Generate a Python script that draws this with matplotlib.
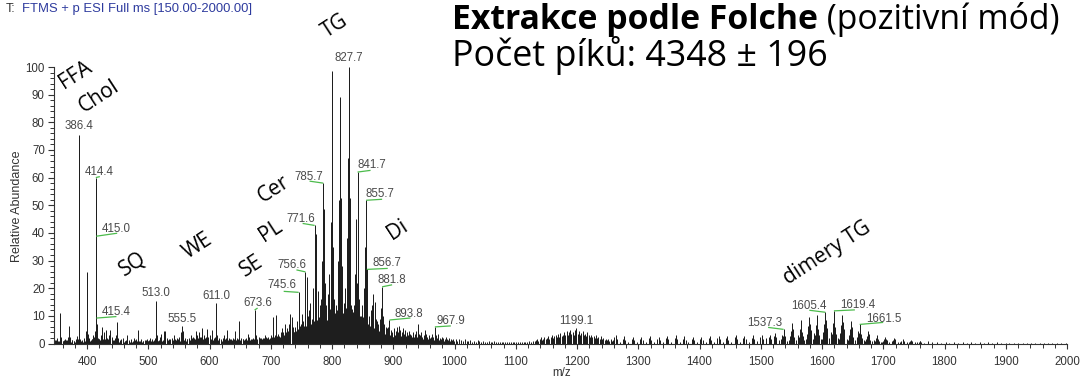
import matplotlib
matplotlib.use("Agg")
import matplotlib.pyplot as plt
from matplotlib.ticker import MultipleLocator

# ---------------------------------------------------------------------------
# Spectrum data: centroid m/z values and relative abundances (%)
# ---------------------------------------------------------------------------

# low-mass region: free fatty acids, cholesterol, squalene, wax / sterol esters
low_mz = [348.2, 351.1, 353.3, 356.3, 358.3, 361.2, 363.3, 366.2, 368.3, 370.3,
          372.3, 375.2, 378.3, 381.3, 384.3, 386.4, 387.4, 389.3, 392.3, 395.3,
          398.3, 400.3, 401.3, 403.3, 405.3, 408.3, 410.3, 412.3, 414.4, 415.0,
          415.4, 416.4, 418.3, 420.3, 422.3, 424.5, 427.3, 430.3, 432.3, 434.3,
          436.3, 438.3, 440.3, 442.3, 445.3, 447.3, 449.3, 451.3, 453.3, 456.3,
          459.3, 462.3, 465.3, 468.3, 471.3, 474.3, 477.3, 480.3, 482.6, 485.3,
          488.3, 491.3, 494.3, 497.3, 500.3, 503.3, 506.3, 509.3, 511.3, 513.0,
          514.0, 516.3, 519.3, 521.3, 525.3, 527.3, 530.3, 533.3, 535.3, 538.3,
          541.3, 544.3, 547.3, 550.3, 553.3, 555.5, 557.3, 560.3, 563.3, 566.3,
          569.3, 572.3, 575.3, 577.3, 580.3, 582.3, 585.3, 587.3, 590.3, 593.3,
          595.3, 598.3, 601.3, 604.3, 607.3, 609.3, 611.0, 612.0, 615.3, 618.3,
          621.3, 624.3, 627.3, 629.3, 632.3, 635.3, 638.3, 641.3, 644.3, 646.3,
          648.6, 651.3, 654.3, 657.3, 659.3, 662.3, 664.3, 667.3, 670.3, 673.6,
          675.3, 678.3, 681.3, 684.3, 687.3, 689.3, 691.3, 694.3, 697.3, 700.3,
          703.6, 706.3, 709.0, 711.3, 714.3, 716.3, 718.3, 720.3, 723.0, 725.3,
          727.3, 729.3, 731.8, 734.0, 736.3, 738.3, 740.3, 742.3, 743.3, 745.6,
          747.3, 749.3, 751.5, 753.3, 755.3, 756.6, 758.6]
low_int = [1.2, 2.0, 1.0, 10.9, 2.5, 1.0, 1.5, 0.8, 2.2, 6.3,
           2.5, 1.2, 0.8, 1.5, 2.6, 75.3, 9.0, 1.5, 1.0, 2.0,
           4.5, 26.0, 3.5, 2.0, 1.0, 1.5, 3.0, 4.5, 60.0, 38.8,
           9.2, 7.0, 2.0, 1.5, 3.0, 6.0, 4.0, 5.0, 2.0, 1.5,
           3.0, 4.8, 2.5, 1.2, 2.0, 3.0, 7.7, 2.0, 1.0, 1.5,
           2.0, 1.0, 3.0, 1.2, 1.5, 1.0, 2.0, 1.5, 5.0, 1.0,
           1.5, 1.0, 1.2, 1.8, 1.0, 2.0, 1.5, 1.0, 2.0, 15.3,
           3.0, 1.0, 2.5, 3.5, 4.7, 4.7, 2.0, 1.5, 1.0, 2.0,
           3.2, 1.5, 2.0, 2.5, 4.0, 6.3, 4.7, 2.0, 1.5, 2.0,
           3.0, 2.5, 2.0, 4.5, 3.0, 4.0, 2.5, 5.5, 3.0, 2.0,
           5.2, 2.5, 3.0, 5.0, 2.0, 2.5, 14.7, 3.0, 2.0, 1.5,
           2.0, 3.0, 2.0, 5.0, 2.0, 1.5, 2.0, 4.7, 2.0, 1.0,
           8.3, 2.0, 1.5, 1.0, 2.0, 3.5, 2.5, 1.5, 2.0, 12.1,
           3.0, 1.5, 2.5, 2.0, 1.0, 2.0, 3.0, 2.0, 1.5, 3.0,
           9.7, 3.0, 10.4, 3.0, 2.5, 4.0, 5.5, 3.5, 7.0, 4.0,
           5.5, 7.0, 10.6, 9.5, 6.0, 4.0, 6.0, 8.0, 5.0, 18.5,
           6.5, 7.0, 10.7, 8.0, 10.0, 25.9, 24.0]

# chemical noise under the low-mass region, one value every 2 u from 348 to 758
low_floor_int = [0.8, 1.2, 0.6, 1.0, 1.5, 0.7, 0.9, 1.3, 0.6, 1.1,
                 1.4, 0.8, 1.0, 0.6, 1.2, 0.9, 0.7, 1.1, 1.6, 1.8,
                 1.0, 0.8, 1.2, 0.7, 1.0, 1.4, 2.0, 1.5, 0.9, 1.2,
                 1.5, 2.0, 2.5, 2.2, 1.8, 1.4, 1.6, 1.2, 1.8, 1.5,
                 1.2, 1.6, 1.0, 1.4, 0.9, 1.3, 1.1, 0.8, 1.2, 1.0,
                 1.4, 0.9, 0.7, 1.1, 0.8, 1.0, 0.6, 0.9, 1.2, 0.7,
                 0.9, 0.6, 1.0, 0.7, 0.8, 1.1, 0.6, 0.9, 0.7, 0.8,
                 1.0, 0.6, 0.8, 0.7, 1.1, 0.6, 0.9, 1.2, 0.8, 0.7,
                 1.0, 1.3, 1.8, 1.1, 0.8, 1.2, 1.6, 1.0, 1.4, 1.9,
                 1.2, 0.9, 1.3, 1.0, 1.5, 0.8, 1.2, 1.7, 1.1, 1.4,
                 1.8, 1.3, 1.0, 1.6, 2.0, 1.2, 1.4, 1.0, 1.5, 1.8,
                 1.2, 1.6, 2.1, 1.4, 1.8, 2.2, 1.5, 1.9, 2.4, 1.6,
                 2.0, 1.5, 1.8, 2.3, 1.4, 1.7, 2.1, 1.5, 1.9, 1.3,
                 1.6, 2.0, 1.4, 1.2, 1.7, 1.3, 1.0, 1.5, 1.2, 1.6,
                 1.9, 1.3, 1.1, 1.5, 1.2, 1.0, 1.6, 1.3, 1.1, 1.8,
                 1.4, 1.2, 1.0, 1.5, 1.3, 1.8, 1.4, 1.1, 1.6, 1.3,
                 1.0, 1.5, 1.8, 1.3, 1.6, 1.2, 1.4, 1.9, 1.5, 1.7,
                 2.0, 1.6, 2.2, 1.8, 2.5, 2.0, 2.8, 2.2, 3.0, 2.4,
                 3.2, 2.6, 3.5, 2.8, 3.6, 3.0, 4.0, 3.2, 4.2, 3.5,
                 4.5, 3.8, 4.8, 4.0, 5.0, 4.2, 5.5, 4.5, 5.2, 5.8,
                 4.8, 6.0, 5.0, 6.5, 5.5, 6.2]
low_floor_first, low_floor_step = 348, 2

# phospholipids, ceramides, triacylglycerols (sodium adducts)
tg_mz = [760.6, 762.6, 764.5, 766.6, 768.6, 769.6, 771.6, 772.6, 773.6, 774.6,
         776.6, 777.6, 779.6, 781.6, 783.6, 785.7, 786.7, 787.7, 788.7, 790.7,
         792.7, 795.7, 797.7, 798.7, 799.7, 800.7, 801.7, 802.7, 804.7, 806.7,
         809.7, 811.7, 812.7, 813.7, 814.7, 815.7, 816.7, 818.7, 821.7, 823.7,
         824.7, 825.7, 826.7, 827.7, 828.7, 829.7, 830.7, 832.7, 835.7, 837.7,
         839.7, 840.7, 841.7, 842.7, 843.7, 846.7, 849.7, 851.7, 853.7, 854.7,
         855.7, 856.7, 857.7, 860.7, 863.7, 865.7, 867.7, 869.7, 871.7, 873.7,
         875.7, 877.7, 879.7, 881.8, 882.8, 884.7, 887.7, 889.7, 891.7, 893.8,
         895.7, 897.7]
tg_int = [10.0, 12.0, 14.5, 9.0, 13.0, 20.0, 42.7, 22.0, 39.5, 18.0,
          12.0, 19.0, 14.0, 16.0, 30.0, 58.0, 33.0, 48.5, 22.0, 14.0,
          18.0, 25.0, 44.0, 22.0, 98.5, 57.0, 35.0, 16.0, 11.0, 14.0,
          30.0, 52.0, 26.0, 89.0, 52.5, 28.0, 12.0, 10.0, 20.0, 38.0,
          19.0, 67.0, 34.0, 100.0, 52.5, 30.0, 14.0, 10.0, 14.0, 25.0,
          45.0, 22.0, 62.0, 36.0, 16.0, 10.0, 14.0, 20.0, 35.0, 18.0,
          51.8, 26.8, 15.0, 10.0, 12.0, 14.0, 18.0, 15.0, 9.0, 8.0,
          7.0, 9.0, 13.0, 20.5, 10.0, 7.0, 6.0, 5.5, 6.0, 8.5,
          5.0, 4.0]

# unresolved signal under the TG cluster, one value per nominal mass 760..900
tg_floor_int = [4.5, 5.0, 6.5, 4.0, 5.5, 7.0, 4.5, 6.0, 5.0, 7.5,
                6.0, 8.0, 5.5, 7.0, 9.0, 6.0, 8.5, 7.0, 6.5, 9.5,
                7.0, 10.0, 8.0, 9.0, 11.0, 7.5, 10.5, 9.0, 8.0, 11.5,
                9.0, 12.0, 8.5, 10.0, 13.0, 9.5, 12.5, 11.0, 10.0, 14.0,
                11.0, 13.5, 10.0, 12.0, 14.5, 10.5, 13.0, 11.5, 12.0, 15.0,
                11.0, 14.0, 12.5, 13.0, 15.5, 11.5, 13.5, 12.0, 11.0, 14.5,
                12.0, 15.0, 11.5, 13.0, 14.0, 12.0, 15.5, 11.0, 13.5, 14.0,
                11.0, 13.0, 10.0, 12.5, 11.5, 9.5, 12.0, 10.5, 11.0, 9.0,
                10.5, 8.5, 11.0, 9.0, 8.0, 10.0, 7.5, 9.0, 8.5, 7.0,
                9.5, 7.0, 8.0, 6.5, 8.5, 6.0, 7.5, 6.5, 5.5, 7.0,
                6.0, 5.0, 6.5, 5.5, 4.5, 6.0, 5.0, 4.0, 5.5, 4.5,
                4.0, 5.0, 3.5, 4.5, 4.0, 3.0, 4.5, 3.5, 3.0, 4.0,
                3.5, 3.0, 4.0, 2.5, 3.5, 3.0, 2.5, 3.5, 3.0, 2.5,
                3.0, 2.5, 3.5, 2.0, 3.0, 2.5, 2.0, 3.0, 2.5, 2.0,
                2.5]
tg_floor_first = 760

# 900-1000 tail of the TG envelope
mid_mz = [901.7, 903.7, 905.7, 907.7, 909.7, 911.7, 913.7, 915.7, 917.7, 919.7,
          921.7, 923.7, 925.7, 927.7, 929.7, 931.7, 933.7, 935.7, 937.7, 939.7,
          941.7, 943.7, 945.7, 947.7, 949.7, 951.7, 953.7, 955.7, 957.7, 959.7,
          961.7, 963.7, 965.7, 967.9, 969.8, 971.8, 973.8, 975.8, 977.8, 979.8,
          981.8, 983.8, 985.8, 987.8, 989.8, 991.8, 993.8, 995.8, 997.8, 999.8]
mid_int = [5.5, 4.5, 6.0, 4.0, 6.5, 5.0, 4.0, 5.5, 3.5, 5.0,
           4.0, 3.0, 4.5, 3.5, 3.0, 4.0, 2.5, 3.5, 4.5, 7.0,
           3.5, 3.0, 4.0, 2.5, 3.0, 5.0, 3.5, 2.5, 3.0, 2.0,
           2.5, 3.5, 2.5, 6.0, 3.0, 2.0, 3.5, 2.0, 1.5, 2.5,
           2.0, 1.5, 2.5, 1.5, 1.2, 2.0, 1.5, 1.2, 1.8, 1.0]

# unresolved signal 900..999, one value per nominal mass
mid_floor_int = [2.5, 3.0, 2.2, 3.2, 2.4, 2.8, 3.4, 2.2, 2.6, 3.0,
                 2.4, 2.8, 2.0, 2.6, 3.0, 2.2, 2.4, 2.8, 2.0, 2.4,
                 2.6, 1.8, 2.2, 2.4, 1.8, 2.6, 2.0, 1.8, 2.2, 1.6,
                 2.0, 2.2, 1.6, 1.8, 2.0, 1.5, 2.2, 1.8, 1.6, 2.4,
                 1.8, 1.5, 2.0, 1.6, 1.4, 1.8, 1.5, 1.3, 1.6, 1.4,
                 1.8, 1.4, 1.2, 1.6, 1.3, 1.2, 1.5, 1.2, 1.1, 1.4,
                 1.2, 1.0, 1.4, 1.1, 1.0, 1.3, 1.1, 1.0, 1.4, 1.0,
                 0.9, 1.2, 1.0, 0.8, 1.1, 0.9, 0.8, 1.0, 0.8, 0.9,
                 1.0, 0.8, 0.7, 0.9, 0.8, 0.7, 0.9, 0.7, 0.6, 0.8,
                 0.7, 0.6, 0.8, 0.6, 0.7, 0.6, 0.5, 0.7, 0.6, 0.5]
mid_floor_first = 900

# quiet stretch 1000-1130
quiet_mz = [1001.8, 1004.8, 1007.8, 1010.8, 1013.8, 1016.8, 1019.8, 1022.8, 1025.8, 1028.8,
            1031.8, 1034.8, 1037.8, 1040.8, 1043.8, 1046.8, 1049.8, 1052.8, 1055.8, 1058.8,
            1061.8, 1064.8, 1067.8, 1070.8, 1073.8, 1076.8, 1079.8, 1082.8, 1085.8, 1088.8,
            1091.8, 1094.8, 1097.8, 1100.8, 1103.8, 1106.8, 1109.8, 1112.8, 1115.8, 1118.8,
            1121.8, 1124.8, 1127.8, 1130.8]
quiet_int = [1.5, 1.0, 1.8, 1.2, 0.8, 1.5, 1.0, 0.8, 1.3, 0.7,
             1.0, 0.6, 1.2, 0.8, 0.6, 1.0, 0.7, 0.5, 0.9, 0.6,
             0.5, 0.8, 0.5, 0.4, 0.6, 0.5, 0.4, 0.6, 0.4, 0.5,
             0.4, 0.6, 0.5, 0.4, 0.5, 0.6, 0.4, 0.5, 0.7, 0.5,
             0.8, 0.6, 1.0, 0.8]

# hump around 1200
bump_mz = [1132.9, 1134.9, 1136.9, 1138.9, 1140.9, 1142.9, 1144.9, 1146.9, 1148.9, 1150.9,
           1152.9, 1154.9, 1156.9, 1158.9, 1160.9, 1162.9, 1164.9, 1166.9, 1168.9, 1170.9,
           1172.9, 1174.9, 1176.9, 1178.9, 1180.9, 1182.9, 1184.9, 1186.9, 1188.9, 1190.9,
           1192.9, 1194.9, 1196.9, 1199.1, 1201.0, 1203.0, 1205.0, 1207.0, 1209.0, 1211.0,
           1213.0, 1215.0, 1217.0, 1219.0, 1221.0, 1223.0, 1225.0, 1227.0, 1229.0, 1231.0,
           1233.0, 1235.0, 1237.0, 1239.0, 1241.0, 1243.0, 1245.0, 1247.0, 1249.0, 1251.0,
           1253.0, 1255.0, 1257.0, 1259.0]
bump_int = [1.2, 1.8, 1.0, 1.5, 2.2, 1.3, 1.8, 2.5, 1.5, 2.0,
            2.8, 1.8, 2.4, 3.2, 2.0, 2.6, 3.0, 2.2, 3.5, 2.5,
            3.8, 2.8, 3.2, 4.2, 3.0, 4.5, 3.2, 4.0, 5.0, 3.5,
            4.2, 3.0, 4.8, 5.6, 3.5, 4.5, 3.2, 3.8, 4.6, 3.0,
            3.5, 2.8, 4.0, 3.0, 2.5, 3.2, 2.2, 2.8, 2.0, 3.0,
            2.0, 2.4, 1.8, 2.8, 1.6, 2.0, 1.4, 1.8, 1.2, 1.5,
            1.0, 1.6, 1.0, 1.3]

# weak homologous series 1260-1530
series_mz = [1261.1, 1263.1, 1265.1, 1270.0, 1275.1, 1277.1, 1279.1, 1284.0, 1289.1, 1291.1,
             1293.1, 1298.0, 1303.2, 1305.2, 1307.2, 1312.0, 1317.2, 1319.2, 1321.2, 1326.0,
             1331.2, 1333.2, 1335.2, 1340.0, 1345.2, 1347.2, 1349.2, 1354.0, 1359.2, 1361.2,
             1363.2, 1368.0, 1373.2, 1375.2, 1377.2, 1382.0, 1387.2, 1389.2, 1391.2, 1396.0,
             1401.2, 1403.2, 1405.2, 1410.0, 1415.2, 1417.2, 1419.2, 1424.0, 1429.3, 1431.3,
             1433.3, 1438.0, 1443.3, 1445.3, 1447.3, 1452.0, 1457.3, 1459.3, 1461.3, 1466.0,
             1471.3, 1473.3, 1475.3, 1480.0, 1485.3, 1487.3, 1489.3, 1494.0, 1499.3, 1501.3,
             1503.3, 1508.0, 1509.3, 1513.3, 1515.3, 1517.3, 1521.3, 1523.3, 1525.3, 1530.0]
series_int = [2.2, 3.2, 1.8, 0.6, 1.8, 2.6, 1.4, 0.5, 1.7, 2.4,
              1.3, 0.5, 1.6, 2.2, 1.2, 0.5, 1.9, 2.6, 1.4, 0.6,
              1.7, 2.4, 1.3, 0.5, 2.0, 2.8, 1.5, 0.6, 2.1, 3.0,
              1.6, 0.6, 1.8, 2.6, 1.4, 0.5, 1.7, 2.4, 1.3, 0.5,
              1.6, 2.2, 1.2, 0.5, 1.9, 2.6, 1.4, 0.6, 2.0, 2.8,
              1.5, 0.6, 1.9, 2.6, 1.4, 0.7, 2.2, 3.2, 1.7, 0.7,
              2.0, 2.8, 1.5, 0.7, 2.1, 3.0, 1.6, 0.8, 2.3, 3.2,
              1.8, 0.9, 2.0, 2.2, 3.0, 1.8, 2.8, 3.8, 2.2, 1.2]

# TG dimers
dimer_mz = [1533.3, 1535.3, 1537.3, 1538.3, 1539.3, 1543.0,
            1547.4, 1549.4, 1551.4, 1552.4, 1553.4, 1557.0,
            1561.4, 1563.4, 1565.4, 1566.4, 1567.4, 1571.0,
            1575.4, 1577.4, 1579.4, 1580.4, 1581.4, 1585.0,
            1587.4, 1589.4, 1591.4, 1592.4, 1593.4, 1598.0,
            1601.4, 1603.4, 1605.4, 1606.4, 1607.4, 1612.0,
            1615.4, 1617.4, 1619.4, 1620.4, 1621.4, 1626.0,
            1629.4, 1631.4, 1633.4, 1634.4, 1635.4, 1640.0,
            1643.5, 1645.5, 1647.5, 1648.5, 1649.5, 1654.0,
            1657.5, 1659.5, 1661.5, 1662.5, 1663.5, 1668.0,
            1671.5, 1673.5, 1675.5, 1676.5, 1677.5, 1682.0,
            1685.5, 1687.5, 1689.5, 1690.5, 1691.5, 1696.0,
            1699.6, 1701.6, 1703.6, 1704.6, 1705.6, 1710.0,
            1713.6, 1715.6, 1717.6, 1718.6, 1719.6, 1724.0,
            1727.6, 1729.6, 1731.6, 1732.6, 1733.6, 1738.0,
            1741.6, 1743.6, 1745.6, 1746.6, 1747.6, 1752.0,
            1755.6, 1757.6, 1759.6, 1760.6, 1761.6, 1766.0]
dimer_int = [1.8, 3.2, 5.1, 3.8, 2.6, 0.9,
             2.6, 4.6, 7.3, 5.4, 3.6, 1.2,
             3.0, 5.4, 8.5, 6.3, 4.2, 1.4,
             3.5, 6.2, 9.7, 7.2, 4.8, 1.6,
             3.7, 6.6, 10.3, 7.6, 5.1, 1.7,
             4.0, 7.2, 11.3, 8.4, 5.6, 1.9,
             4.2, 7.5, 11.8, 8.7, 5.9, 1.9,
             3.7, 6.6, 10.3, 7.6, 5.1, 1.7,
             2.9, 5.2, 8.2, 6.1, 4.1, 1.4,
             2.5, 4.4, 6.9, 5.1, 3.4, 1.2,
             1.6, 2.8, 4.4, 3.3, 2.2, 0.9,
             1.2, 2.0, 3.2, 2.4, 1.6, 0.7,
             0.9, 1.5, 2.4, 1.8, 1.2, 0.6,
             0.8, 1.3, 2.0, 1.5, 1.0, 0.5,
             0.6, 1.0, 1.6, 1.2, 0.8, 0.4,
             0.5, 0.8, 1.3, 1.0, 0.7, 0.4,
             0.4, 0.6, 1.0, 0.8, 0.5, 0.3]

# minor isomers flanking each dimer cluster
dimer_side_mz = [1532.3, 1534.3, 1536.3, 1540.3,
                 1546.4, 1548.4, 1550.4, 1554.4,
                 1560.4, 1562.4, 1564.4, 1568.4,
                 1574.4, 1576.4, 1578.4, 1582.4,
                 1586.4, 1588.4, 1590.4, 1594.4,
                 1600.4, 1602.4, 1604.4, 1608.4,
                 1614.4, 1616.4, 1618.4, 1622.4,
                 1628.4, 1630.4, 1632.4, 1636.4,
                 1642.5, 1644.5, 1646.5, 1650.5,
                 1656.5, 1658.5, 1660.5, 1664.5,
                 1670.5, 1672.5, 1674.5, 1678.5,
                 1684.5, 1686.5, 1688.5, 1692.5,
                 1698.6, 1700.6, 1702.6, 1706.6]
dimer_side_int = [0.8, 1.5, 2.8, 1.6,
                  1.1, 2.2, 4.0, 2.2,
                  1.3, 2.5, 4.7, 2.6,
                  1.5, 2.9, 5.3, 2.9,
                  1.6, 3.1, 5.7, 3.1,
                  1.7, 3.4, 6.2, 3.4,
                  1.8, 3.5, 6.5, 3.5,
                  1.6, 3.1, 5.7, 3.1,
                  1.3, 2.5, 4.5, 2.5,
                  1.1, 2.1, 3.8, 2.1,
                  0.8, 1.3, 2.4, 1.3,
                  0.6, 1.0, 1.8, 1.0,
                  0.5, 0.7, 1.3, 0.7]

# high-mass noise
tail_mz = [1773.7, 1780.0, 1787.7, 1794.0, 1801.7, 1808.0, 1815.7, 1822.0, 1829.7, 1836.0,
           1843.7, 1850.0, 1857.7, 1864.0, 1871.7, 1878.0, 1885.7, 1892.0, 1899.7, 1906.0,
           1913.7, 1920.0, 1927.7, 1934.0, 1941.7, 1948.0, 1955.7, 1962.0, 1969.7, 1976.0,
           1983.7, 1990.0, 1997.7]
tail_int = [0.8, 0.4, 0.7, 0.3, 0.6, 0.3, 0.5, 0.3, 0.5, 0.3,
            0.4, 0.3, 0.4, 0.2, 0.4, 0.2, 0.4, 0.2, 0.3, 0.2,
            0.3, 0.2, 0.3, 0.2, 0.3, 0.2, 0.3, 0.2, 0.3, 0.2,
            0.3, 0.2, 0.3]

# peaks carrying an m/z label
labelled_mz = [386.4, 414.4, 415.0, 415.4, 513.0, 555.5, 611.0, 673.6, 745.6, 756.6,
               771.6, 785.7, 827.7, 841.7, 855.7, 856.7, 881.8, 893.8, 967.9, 1199.1,
               1537.3, 1605.4, 1619.4, 1661.5]

# lipid class annotations
class_labels = ["FFA", "Chol", "TG", "Cer", "PL", "WE", "SQ", "SE", "Di", "dimery TG"]

# ---------------------------------------------------------------------------
# Layout
# ---------------------------------------------------------------------------
W, H = 1082, 382
AX_L, AX_R, AX_T, AX_B = 54.3, 1067.0, 67.0, 343.5   # axes box in pixels

# label text centre (dx, dy) and green leader end, in pixels from the peak top
label_layout = {
    386.4: (0, 9, None),
    414.4: (3.5, 5.6, (4, 1)),
    415.0: (20, 7, (21, 3)),
    415.4: (20, 6.3, (20, 1.5)),
    513.0: (0, 8, None),
    555.5: (0, 7, None),
    611.0: (0, 7, None),
    673.6: (3.5, 6.7, (3, 2)),
    745.6: (-16.5, 7, (-15, 1)),
    756.6: (-13, 7, (-9, 2)),
    771.6: (-13.4, 6.7, (-12, 2)),
    785.7: (-14, 6.3, (-13.7, 2)),
    827.7: (0, 8.7, None),
    841.7: (14, 6.7, (13, 1.7)),
    855.7: (14, 6.7, (16, 1)),
    856.7: (20, 6.3, (21, 1)),
    881.8: (10, 7, (10, 2)),
    893.8: (19, 6, (21, 2)),
    967.9: (16.5, 6.3, (16, 1)),
    1199.1: (0, 7.3, None),
    1537.3: (-19, 6.3, (-15.5, 2)),
    1605.4: (-16, 6, (-16, 2)),
    1619.4: (24, 6, (21, 1)),
    1661.5: (24.4, 5.7, (23.5, 2)),
}

# class-label centres in figure pixels
class_pos = {
    "FFA": (76, 75), "Chol": (99, 97), "TG": (335, 26), "Cer": (274, 189),
    "PL": (271, 231), "WE": (198, 246), "SQ": (133, 264), "SE": (252, 266),
    "Di": (397, 230), "dimery TG": (827, 253),
}

SANS = ["Liberation Sans", "DejaVu Sans"]
HUMAN = ["Open Sans", "DejaVu Sans"]
INK = "#1e1e1e"
AXIS = "#333333"
LABEL = "#4a4a4a"
GREEN = "#4cbb4c"


def fpos(x, y):
    return x / W, 1 - y / H


fig = plt.figure(figsize=(W / 100, H / 100), dpi=100)
ax = fig.add_axes([AX_L / W, 1 - AX_B / H, (AX_R - AX_L) / W, (AX_B - AX_T) / H])
ax.set_xlim(346.6, 2000)
ax.set_ylim(0, 100)

# assemble all sticks
all_mz = (low_mz + tg_mz + mid_mz + quiet_mz + bump_mz + series_mz + dimer_mz
          + dimer_side_mz + tail_mz
          + [low_floor_first + low_floor_step * i for i in range(len(low_floor_int))]
          + [tg_floor_first + i for i in range(len(tg_floor_int))]
          + [mid_floor_first + i for i in range(len(mid_floor_int))])
all_int = (low_int + tg_int + mid_int + quiet_int + bump_int + series_int + dimer_int
           + dimer_side_int + tail_int
           + low_floor_int + tg_floor_int + mid_floor_int)
assert len(all_mz) == len(all_int)

ax.vlines(all_mz, 0, all_int, colors=INK, linewidth=0.72)

# axes styling
for side in ("top", "right"):
    ax.spines[side].set_visible(False)
for side in ("left", "bottom"):
    ax.spines[side].set_color(AXIS)
    ax.spines[side].set_linewidth(0.8)

ax.xaxis.set_major_locator(MultipleLocator(100))
ax.xaxis.set_minor_locator(MultipleLocator(20))
ax.yaxis.set_major_locator(MultipleLocator(10))
ax.yaxis.set_minor_locator(MultipleLocator(2))
ax.set_xticks(list(range(400, 2001, 100)))
ax.tick_params(axis="y", which="major", direction="out", length=4.3, width=0.8,
               color=AXIS, pad=2.5, labelsize=8.3, labelcolor=AXIS)
ax.tick_params(axis="y", which="minor", direction="out", length=2.6, width=0.7, color=AXIS)
ax.tick_params(axis="x", which="major", direction="out", length=3.8, width=0.8,
               color=AXIS, pad=5.5, labelsize=8.3, labelcolor=AXIS)
ax.tick_params(axis="x", which="minor", direction="out", length=3.0, width=0.7, color=AXIS)
for lab in ax.get_xticklabels() + ax.get_yticklabels():
    lab.set_family(SANS)

# peak labels with green leaders
height_of = dict(zip(all_mz, all_int))
for mz in labelled_mz:
    h = height_of[mz]
    dx, dy, lead = label_layout[mz]
    ax.annotate(f"{mz:.1f}", xy=(mz, h), xytext=(dx, dy), textcoords="offset pixels",
                ha="center", va="center", fontsize=8.3, color=LABEL, family=SANS)
    if lead is not None:
        p0 = ax.transData.transform((mz, h))
        p1 = ax.transData.inverted().transform((p0[0] + lead[0], p0[1] + lead[1]))
        ax.plot([mz, p1[0]], [h, p1[1]], color=GREEN, linewidth=0.9, clip_on=False,
                solid_capstyle="butt")

# lipid class annotations
for name in class_labels:
    x, y = class_pos[name]
    fig.text(*fpos(x, y), name, rotation=33, rotation_mode="anchor", ha="center",
             va="center", fontsize=15, family=HUMAN, color="black")

# axis titles
fig.text(*fpos(17, 206), "Relative Abundance", rotation=90, ha="center", va="center",
         fontsize=9, color=AXIS, family=SANS)
fig.text(*fpos(562, 373), "m/z", ha="center", va="center", fontsize=8.3, color=AXIS,
         family=SANS)

# scan header
fig.text(*fpos(6, 9), "T:", ha="left", va="center", fontsize=9, color="#333333",
         family=SANS)
fig.text(*fpos(22, 9), "FTMS + p ESI Full ms [150.00-2000.00]", ha="left", va="center",
         fontsize=9.4, color="#2e3b9e", family=SANS)

# headline
renderer = fig.canvas.get_renderer()
t1 = fig.text(*fpos(452, 29), "Extrakce podle Folche", ha="left", va="baseline",
              fontsize=24.3, fontweight="bold", family=HUMAN, color="black")
bb = t1.get_window_extent(renderer=renderer)
fig.text(bb.x1 / W, 1 - 29 / H, " (pozitivní mód)", ha="left", va="baseline",
         fontsize=24.3, family=HUMAN, color="black")
fig.text(*fpos(452, 66), "Počet píků: 4348 ± 196", ha="left", va="baseline",
         fontsize=25.8, family=HUMAN, color="black")

fig.savefig("out.png", dpi=100)
